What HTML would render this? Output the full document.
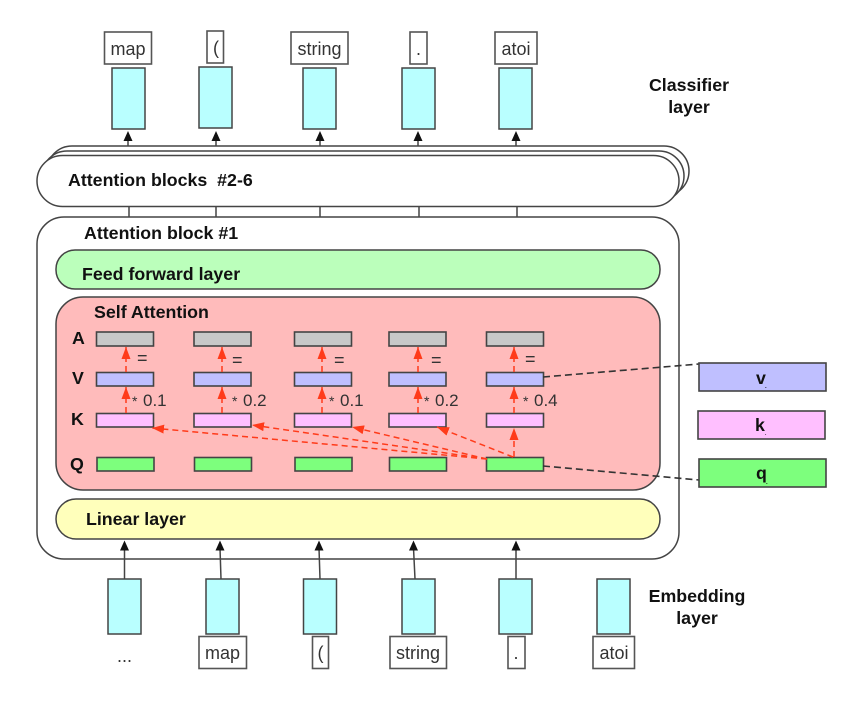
<!DOCTYPE html>
<html><head><meta charset="utf-8"><style>
html,body{margin:0;padding:0;background:#fff;width:850px;height:701px;overflow:hidden}
svg{display:block;filter:blur(.35px)}
text{font-family:"Liberation Sans",sans-serif;fill:#222;white-space:pre}
.b{font-weight:bold;fill:#111;font-size:17.8px}
.l{font-size:18px;text-anchor:middle;fill:#333}
.s{stroke:#444;stroke-width:1.5}
.c{fill:#b9ffff;stroke:#444;stroke-width:1.5}
.w{fill:#fff;stroke:#555;stroke-width:1.6}
.a{fill:#c8c8c8;stroke:#444;stroke-width:1.6}
.v{fill:#bfbfff;stroke:#444;stroke-width:1.6}
.k{fill:#ffbfff;stroke:#444;stroke-width:1.6}
.q{fill:#7dff7d;stroke:#444;stroke-width:1.6}
.r{stroke:#ff3b1a;stroke-width:1.5;stroke-dasharray:6 4;fill:none}
.d{stroke:#333;stroke-width:1.6;stroke-dasharray:7 4;fill:none}
.n{font-size:17px;fill:#333}
.e{font-size:18px;fill:#333}
.st{font-size:14px;fill:#333}
</style></head><body>
<svg width="850" height="701" viewBox="0 0 850 701" xmlns="http://www.w3.org/2000/svg">
<defs>
<marker id="ar" markerUnits="userSpaceOnUse" markerWidth="13" markerHeight="10" refX="12" refY="4.500" orient="auto"><path d="M0 0L12 4.500L0 9z" fill="#ff3b1a"/></marker>
</defs>

<!-- top labels -->
<rect class="w" x="104.500" y="32" width="47" height="32"/><text class="l" x="128" y="55">map</text>
<rect class="w" x="207" y="31" width="16.500" height="32"/><text class="l" x="216" y="54">(</text>
<rect class="w" x="291" y="32" width="57" height="32"/><text class="l" x="319.500" y="55">string</text>
<rect class="w" x="410" y="32" width="17" height="32"/><text class="l" x="418.500" y="55">.</text>
<rect class="w" x="495" y="32" width="42" height="32"/><text class="l" x="516" y="55">atoi</text>
<!-- top cyan -->
<rect class="c" x="112" y="68" width="33" height="61"/>
<rect class="c" x="199" y="67" width="33" height="61"/>
<rect class="c" x="303" y="68" width="33" height="61"/>
<rect class="c" x="402" y="68" width="33" height="61"/>
<rect class="c" x="499" y="68" width="33" height="61"/>
<!-- top arrows -->
<g fill="#111">
<path class="s" d="M128 146V138M216 146V138M320 146V138M418 146V138M516 146V138"/>
<path d="M128 131l-4.500 10h9zM216 131l-4.500 10h9zM320 131l-4.500 10h9zM418 131l-4.500 10h9zM516 131l-4.500 10h9z"/>
</g>
<!-- stacked blocks -->
<rect x="47" y="146" width="642" height="50" rx="25" fill="#fff" stroke="#444" stroke-width="1.5"/>
<rect x="42" y="151" width="642" height="50" rx="25" fill="#fff" stroke="#444" stroke-width="1.5"/>
<rect x="37" y="155.500" width="642" height="51" rx="25.500" fill="#fff" stroke="#444" stroke-width="1.5"/>
<text class="b" x="68" y="186">Attention blocks  #2-6</text>
<path class="s" d="M129 207V217M216 207V217M320 207V217M419 207V217M517 207V217"/>

<!-- block 1 -->
<rect x="37" y="217" width="642" height="342" rx="27" fill="#fff" stroke="#444" stroke-width="1.5"/>
<text class="b" x="84" y="239">Attention block #1</text>
<rect x="56" y="250" width="604" height="39" rx="19" fill="#bbffbb" stroke="#444" stroke-width="1.5"/>
<text class="b" x="82" y="280">Feed forward layer</text>
<rect x="56" y="297" width="604" height="193" rx="27" fill="#ffbbbb" stroke="#444" stroke-width="1.5"/>
<text class="b" x="94" y="318">Self Attention</text>
<rect x="56" y="499" width="604" height="40" rx="20" fill="#ffffbb" stroke="#444" stroke-width="1.5"/>
<text class="b" x="86" y="525">Linear layer</text>

<!-- row labels -->
<text class="b" x="72" y="344">A</text>
<text class="b" x="72" y="384">V</text>
<text class="b" x="71" y="425">K</text>
<text class="b" x="70" y="470">Q</text>

<!-- A row -->
<rect class="a" x="96.500" y="332" width="57" height="14"/>
<rect class="a" x="194" y="332" width="57" height="14"/>
<rect class="a" x="294.500" y="332" width="57" height="14"/>
<rect class="a" x="389" y="332" width="57" height="14"/>
<rect class="a" x="486.500" y="332" width="57" height="14"/>
<!-- V row -->
<rect class="v" x="96.500" y="372.500" width="57" height="13.500"/>
<rect class="v" x="194" y="372.500" width="57" height="13.500"/>
<rect class="v" x="294.500" y="372.500" width="57" height="13.500"/>
<rect class="v" x="389" y="372.500" width="57" height="13.500"/>
<rect class="v" x="486.500" y="372.500" width="57" height="13.500"/>
<!-- K row -->
<rect class="k" x="96.500" y="413.500" width="57" height="13.500"/>
<rect class="k" x="194" y="413.500" width="57" height="13.500"/>
<rect class="k" x="294.500" y="413.500" width="57" height="13.500"/>
<rect class="k" x="389" y="413.500" width="57" height="13.500"/>
<rect class="k" x="486.500" y="413.500" width="57" height="13.500"/>
<!-- Q row -->
<rect class="q" x="97" y="457.500" width="57" height="13.500"/>
<rect class="q" x="194.500" y="457.500" width="57" height="13.500"/>
<rect class="q" x="295" y="457.500" width="57" height="13.500"/>
<rect class="q" x="389.500" y="457.500" width="57" height="13.500"/>
<rect class="q" x="486.500" y="457.500" width="57" height="13.500"/>

<!-- red arrows -->
<path class="r" marker-end="url(#ar)" d="M126 372V347"/>
<path class="r" marker-end="url(#ar)" d="M222 372V347"/>
<path class="r" marker-end="url(#ar)" d="M322 372V347"/>
<path class="r" marker-end="url(#ar)" d="M418 372V347"/>
<path class="r" marker-end="url(#ar)" d="M514 372V347"/>
<path class="r" marker-end="url(#ar)" d="M126 413V387"/>
<path class="r" marker-end="url(#ar)" d="M222 413V387"/>
<path class="r" marker-end="url(#ar)" d="M322 413V387"/>
<path class="r" marker-end="url(#ar)" d="M418 413V387"/>
<path class="r" marker-end="url(#ar)" d="M514 413V387"/>
<path class="r" marker-end="url(#ar)" d="M514 457V428"/>
<path class="r" marker-end="url(#ar)" d="M487 459L152 428"/>
<path class="r" marker-end="url(#ar)" d="M487 459L252 425"/>
<path class="r" marker-end="url(#ar)" d="M487 459L352 427"/>
<path class="r" marker-end="url(#ar)" d="M513 457L437 427"/>

<!-- = signs -->
<text class="e" x="137" y="364">=</text>
<text class="e" x="232" y="366">=</text>
<text class="e" x="334" y="366">=</text>
<text class="e" x="431" y="366">=</text>
<text class="e" x="525" y="365">=</text>
<!-- weights -->
<text class="st" x="132" y="406">*</text><text class="n" x="143" y="406">0.1</text>
<text class="st" x="232" y="406">*</text><text class="n" x="243" y="406">0.2</text>
<text class="st" x="329" y="406">*</text><text class="n" x="340" y="406">0.1</text>
<text class="st" x="424" y="406">*</text><text class="n" x="435" y="406">0.2</text>
<text class="st" x="523" y="406">*</text><text class="n" x="534" y="406">0.4</text>

<!-- right boxes -->
<path class="d" d="M543 377L699 364"/>
<path class="d" d="M543 466L699 480"/>
<rect class="v" x="699" y="363" width="127" height="28"/>
<text class="b" x="756" y="384">v</text><text class="b" x="765" y="388" style="font-size:6px">.</text>
<rect class="k" x="698" y="411" width="127" height="28"/>
<text class="b" x="755" y="431">k</text><text class="b" x="765" y="435" style="font-size:5px">.</text>
<rect class="q" x="699" y="459" width="127" height="28"/>
<text class="b" x="756" y="479">q</text><text class="b" x="766" y="484" style="font-size:6px">.</text>

<!-- bottom arrows -->
<g fill="#111">
<path class="s" d="M124.500 579V548M221 579L220 548M320 579L319 548M415 579L413.500 548M516 579V548"/>
<path d="M124.500 540.500l-4.500 10h9zM220 540.500l-4.500 10h9zM319 540.500l-4.500 10h9zM413.500 540.500l-4.500 10h9zM516 540.500l-4.500 10h9z"/>
</g>
<!-- bottom cyan -->
<rect class="c" x="108" y="579" width="33" height="55"/>
<rect class="c" x="206" y="579" width="33" height="55"/>
<rect class="c" x="303.500" y="579" width="33" height="55"/>
<rect class="c" x="402" y="579" width="33" height="55"/>
<rect class="c" x="499" y="579" width="33" height="55"/>
<rect class="c" x="597" y="579" width="33" height="55"/>
<!-- bottom labels -->
<text class="l" x="124.500" y="662">...</text>
<rect class="w" x="199" y="636.500" width="47.500" height="32"/><text class="l" x="222.500" y="659">map</text>
<rect class="w" x="312.500" y="636.500" width="16" height="32"/><text class="l" x="320.500" y="659">(</text>
<rect class="w" x="390" y="636.500" width="56.500" height="32"/><text class="l" x="418" y="659">string</text>
<rect class="w" x="508" y="636.500" width="17" height="32"/><text class="l" x="516" y="659">.</text>
<rect class="w" x="593" y="636.500" width="41.500" height="32"/><text class="l" x="614" y="659">atoi</text>

<text class="b" x="689" y="91" text-anchor="middle">Classifier</text>
<text class="b" x="689" y="113" text-anchor="middle">layer</text>
<text class="b" x="697" y="602" text-anchor="middle">Embedding</text>
<text class="b" x="697" y="624" text-anchor="middle">layer</text>
</svg>
</body></html>
